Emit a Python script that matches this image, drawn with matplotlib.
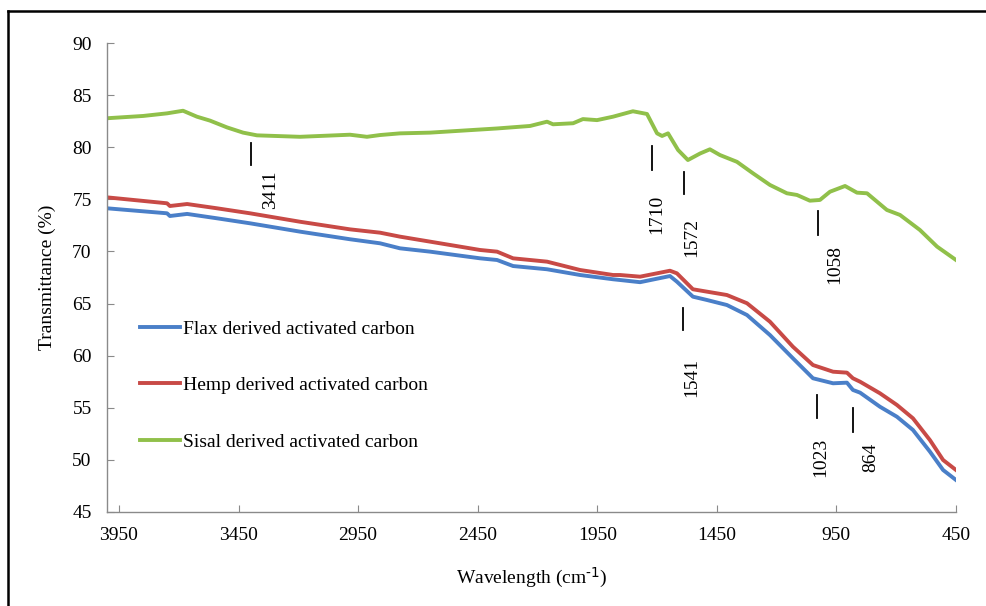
import numpy as np
import matplotlib
matplotlib.use("Agg")
import matplotlib.pyplot as plt
from matplotlib.lines import Line2D

plt.rcParams['font.family'] = ['Liberation Serif', 'DejaVu Serif']
plt.rcParams['mathtext.default'] = 'regular'

# FTIR spectra (wavenumber cm-1, transmittance %)
sisal_wn = [4000, 3849, 3749, 3682, 3624, 3569, 3498, 3431, 3373, 3193, 2984, 2913,
            2858, 2775, 2649, 2369, 2231, 2160, 2135, 2051, 2010, 1951, 1884, 1801,
            1742, 1700, 1679, 1654, 1612, 1571, 1520, 1479, 1437, 1366, 1299, 1228,
            1157, 1115, 1061, 1019, 977, 914, 864, 822, 739, 684, 601, 529, 450]
sisal_t = [82.78, 83.0, 83.25, 83.5, 82.93, 82.55, 81.9, 81.4, 81.14, 81.0, 81.2, 81.0,
           81.17, 81.33, 81.4, 81.8, 82.04, 82.45, 82.2, 82.3, 82.7, 82.6, 82.93, 83.45,
           83.19, 81.33, 81.08, 81.33, 79.73, 78.77, 79.4, 79.8, 79.25, 78.6, 77.5, 76.38,
           75.58, 75.42, 74.87, 74.94, 75.73, 76.28, 75.64, 75.58, 73.98, 73.5, 72.06, 70.46, 69.18]

fh_wn = [4000, 3749, 3737, 3665, 3540, 3402, 3193, 2984, 2858, 2775, 2649, 2440,
         2369, 2302, 2160, 2022, 1884, 1855, 1771, 1646, 1617, 1550, 1491, 1408,
         1324, 1228, 1132, 1048, 964, 906, 881, 851, 768, 697, 630, 559, 504, 450]
hemp_t = [75.19, 74.62, 74.36, 74.55, 74.14, 73.66, 72.85, 72.12, 71.8, 71.42, 70.94, 70.14,
          69.98, 69.34, 69.02, 68.22, 67.74, 67.74, 67.58, 68.15, 67.9, 66.37, 66.14, 65.82,
          65.03, 63.26, 60.86, 59.1, 58.46, 58.37, 57.83, 57.5, 56.39, 55.27, 53.99, 51.9, 49.99, 49.03]
flax_t = [74.14, 73.66, 73.4, 73.6, 73.18, 72.7, 71.9, 71.17, 70.78, 70.3, 69.98, 69.34,
          69.18, 68.6, 68.29, 67.74, 67.33, 67.26, 67.05, 67.64, 67.1, 65.66, 65.34, 64.86,
          63.9, 61.98, 59.75, 57.83, 57.35, 57.41, 56.71, 56.45, 55.1, 54.14, 52.87, 50.79, 49.03, 48.07]

series_names = ['Flax derived activated carbon', 'Hemp derived activated carbon',
                'Sisal derived activated carbon']
colors = ['#4a7fc8', '#c84a46', '#90c04a']

# peak marks: label, mark x, mark y0, mark y1, text x, text top y
peaks = [
    ('3411', 3398, 80.4, 78.3, 3318, 77.8),
    ('1710', 1721, 80.1, 77.8, 1700, 75.4),
    ('1572', 1587, 77.6, 75.5, 1554, 73.2),
    ('1058', 1027, 73.9, 71.6, 956, 70.6),
    ('1541', 1591, 64.6, 62.5, 1554, 59.8),
    ('1023', 1031, 56.2, 54.0, 1015, 52.1),
    ('864', 881, 55.0, 52.7, 805, 51.6),
]

fig = plt.figure(figsize=(9.87, 6.06), dpi=100)
ax = fig.add_axes([107 / 987, 1 - 512 / 606, 849 / 987, 469 / 606])

ax.plot(fh_wn, flax_t, color=colors[0], lw=2.8, label=series_names[0])
ax.plot(fh_wn, hemp_t, color=colors[1], lw=2.8, label=series_names[1])
ax.plot(sisal_wn, sisal_t, color=colors[2], lw=2.8, label=series_names[2])

for lab, mx, y0, y1, tx, ty in peaks:
    ax.plot([mx, mx], [y0, y1], color='black', lw=1.3)
    ax.text(tx, ty, lab, rotation=90, ha='center', va='top', fontsize=14)

ax.set_xlim(4000, 450)
ax.set_ylim(45, 90)
ax.set_xticks(np.arange(3950, 449, -500))
ax.set_yticks(np.arange(45, 91, 5))

for s in ['top', 'right']:
    ax.spines[s].set_visible(False)
for s in ['left', 'bottom']:
    ax.spines[s].set_color('#8a8a8a')
    ax.spines[s].set_linewidth(1.0)
ax.tick_params(direction='in', length=5, color='#8a8a8a', labelsize=14, pad=11)

ax.set_xlabel(r'Wavelength (cm$^{\text{-1}}$)', fontsize=14, labelpad=15)
ax.set_ylabel('Transmittance (%)', fontsize=14, labelpad=12)

ax.legend(loc='upper left', bbox_to_anchor=(33 / 849, 0.4095), frameon=False,
          fontsize=14, handlelength=2.06, handletextpad=0.15, labelspacing=2.0,
          borderpad=0, borderaxespad=0)

# outer frame (top and left edges visible)
fx = 8 / 987
fy = 1 - 11 / 606
fig.add_artist(Line2D([fx, 1.0], [fy, fy], color='black', lw=1.8, transform=fig.transFigure))
fig.add_artist(Line2D([fx, fx], [0, fy], color='black', lw=1.8, transform=fig.transFigure))

fig.savefig('out.png', dpi=100)
